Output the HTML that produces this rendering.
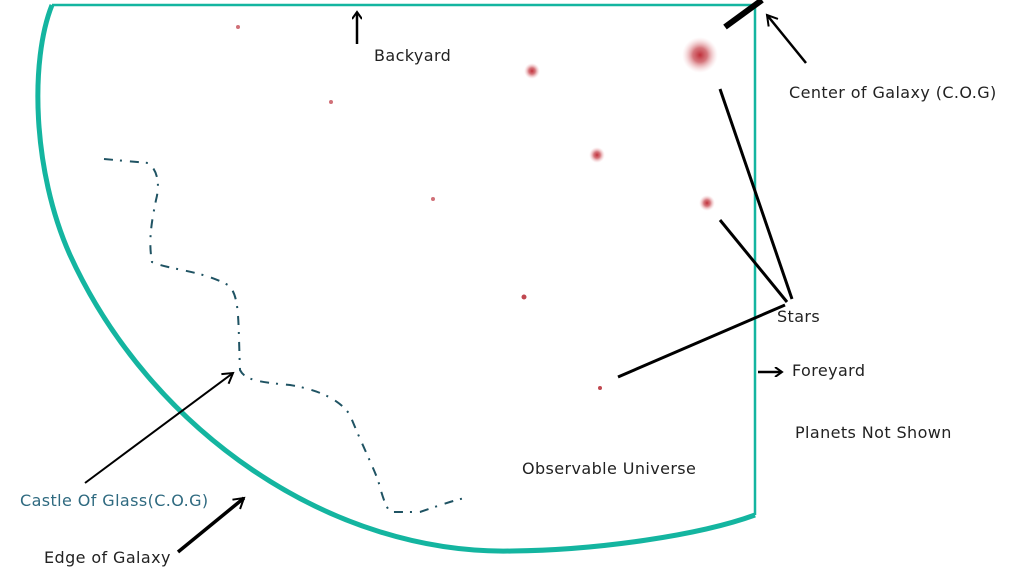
<!DOCTYPE html>
<html><head><style>
html,body{margin:0;padding:0;background:#fff;width:1024px;height:582px;overflow:hidden}
svg text{font-family:"DejaVu Sans","Liberation Sans",sans-serif;font-size:16px;letter-spacing:0.4px;fill:#222}
</style></head><body>
<svg width="1024" height="582" viewBox="0 0 1024 582" xmlns="http://www.w3.org/2000/svg">
<defs>
<radialGradient id="g"><stop offset="0" stop-color="#c0303a"/><stop offset="0.4" stop-color="#c84a52" stop-opacity="0.75"/><stop offset="1" stop-color="#f2c0c4" stop-opacity="0"/></radialGradient>
<marker id="a" markerWidth="10" markerHeight="10" refX="8" refY="5" orient="auto" markerUnits="userSpaceOnUse"><path d="M1,0 L8,5 L1,10" fill="none" stroke="#000" stroke-width="2"/></marker>
<marker id="a2" markerWidth="14" markerHeight="14" refX="11" refY="7" orient="auto" markerUnits="userSpaceOnUse"><path d="M1,1 L11,7 L1,13" fill="none" stroke="#000" stroke-width="2"/></marker>
</defs>
<line x1="52" y1="5" x2="755" y2="5" stroke="#14b5a0" stroke-width="2.5"/>
<line x1="755" y1="5" x2="755" y2="515" stroke="#14b5a0" stroke-width="2.5"/>
<path d="M52,5 C30,60 32,170 70,255 C150,430 330,555 512,551 C600,550 700,535 755,515" fill="none" stroke="#14b5a0" stroke-width="5"/>
<circle cx="700" cy="55" r="18" fill="url(#g)"/>
<circle cx="532" cy="71" r="8" fill="url(#g)"/>
<circle cx="597" cy="155" r="8" fill="url(#g)"/>
<circle cx="707" cy="203" r="8" fill="url(#g)"/>
<circle cx="238" cy="27" r="2" fill="#d07078"/>
<circle cx="331" cy="102" r="2" fill="#d07078"/>
<circle cx="433" cy="199" r="2" fill="#d07078"/>
<circle cx="524" cy="297" r="2.5" fill="#c04850"/>
<circle cx="600" cy="388" r="2" fill="#c04850"/>
<path d="M104,159 L148,163 C158,170 160,185 156,200 C152,220 148,240 152,262 C170,270 200,270 228,285 C240,295 238,320 240,370 C245,380 258,382 290,385 C320,390 340,400 350,415 C360,440 370,460 378,480 C382,495 385,505 390,512 L420,512 C440,505 455,500 465,498" fill="none" stroke="#1f5363" stroke-width="2" stroke-dasharray="9,7,2,8"/>
<line x1="357" y1="44" x2="357" y2="12" stroke="#000" stroke-width="2.5" marker-end="url(#a)"/>
<line x1="725" y1="27" x2="762" y2="0" stroke="#000" stroke-width="6"/>
<line x1="806" y1="63" x2="767" y2="15" stroke="#000" stroke-width="2.5" marker-end="url(#a2)"/>
<line x1="720" y1="89" x2="792" y2="299" stroke="#000" stroke-width="3"/>
<line x1="720" y1="220" x2="787" y2="302" stroke="#000" stroke-width="3"/>
<line x1="618" y1="377" x2="785" y2="305" stroke="#000" stroke-width="3"/>
<line x1="758" y1="372" x2="782" y2="372" stroke="#000" stroke-width="2.5" marker-end="url(#a)"/>
<line x1="85" y1="483" x2="233" y2="373" stroke="#000" stroke-width="2" marker-end="url(#a2)"/>
<line x1="178" y1="552" x2="244" y2="498" stroke="#000" stroke-width="3.5" marker-end="url(#a2)"/>
<text x="374" y="61">Backyard</text>
<text x="789" y="98">Center of Galaxy (C.O.G)</text>
<text x="777" y="322">Stars</text>
<text x="792" y="376">Foreyard</text>
<text x="795" y="438">Planets Not Shown</text>
<text x="522" y="474">Observable Universe</text>
<text x="20" y="506" style="fill:#2f6a80">Castle Of Glass(C.O.G)</text>
<text x="44" y="563">Edge of Galaxy</text>
</svg>
</body></html>
